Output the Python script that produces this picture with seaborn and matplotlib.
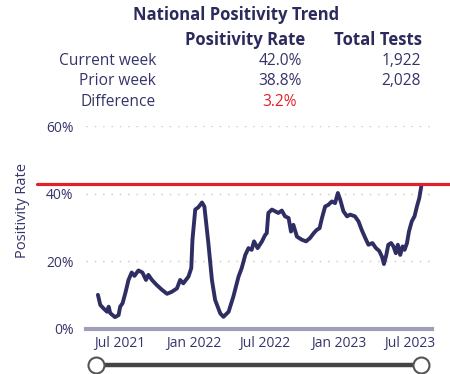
import pandas as pd
import matplotlib
matplotlib.use("Agg")
import matplotlib.pyplot as plt
import matplotlib.dates as mdates
from matplotlib.lines import Line2D
from matplotlib.transforms import blended_transform_factory
import seaborn as sns

# weekly positivity
dates = ["2021-05-06", "2021-05-12", "2021-05-20", "2021-05-29", "2021-06-02", "2021-06-06",
         "2021-06-18", "2021-06-27", "2021-07-01", "2021-07-07", "2021-07-14", "2021-07-22",
         "2021-07-30", "2021-08-06", "2021-08-16", "2021-08-26", "2021-09-04", "2021-09-10",
         "2021-09-19", "2021-10-01", "2021-10-14", "2021-10-27", "2021-11-08", "2021-11-21",
         "2021-11-29", "2021-12-07", "2021-12-20", "2021-12-27", "2021-12-30", "2022-01-06",
         "2022-01-14", "2022-01-23", "2022-01-29", "2022-02-08", "2022-02-17", "2022-02-25",
         "2022-03-10", "2022-03-18", "2022-03-31", "2022-04-12", "2022-04-25", "2022-05-03",
         "2022-05-12", "2022-05-20", "2022-05-28", "2022-06-03", "2022-06-12", "2022-06-23",
         "2022-07-01", "2022-07-05", "2022-07-09", "2022-07-18", "2022-08-03", "2022-08-12",
         "2022-08-20", "2022-08-29", "2022-09-04", "2022-09-10", "2022-09-19", "2022-10-01",
         "2022-10-12", "2022-10-22", "2022-10-31", "2022-11-08", "2022-11-15", "2022-11-21",
         "2022-11-29", "2022-12-07", "2022-12-16", "2022-12-24", "2022-12-31", "2023-01-06",
         "2023-01-14", "2023-01-23", "2023-01-31", "2023-02-12", "2023-02-21", "2023-03-01",
         "2023-03-10", "2023-03-18", "2023-03-28", "2023-04-06", "2023-04-14", "2023-04-21",
         "2023-04-26", "2023-05-02", "2023-05-07", "2023-05-14", "2023-05-20", "2023-05-26",
         "2023-05-31", "2023-06-06", "2023-06-12", "2023-06-17", "2023-06-23", "2023-06-28",
         "2023-07-05", "2023-07-12", "2023-07-18", "2023-07-24", "2023-07-29"]
rate = [10.1, 7.1, 6.1, 5.1, 6.6, 4.7,
        3.5, 4.1, 6.6, 7.6, 10.6, 14.5,
        16.7, 15.7, 17.3, 16.7, 14.5, 16.0,
        14.5, 13.0, 11.6, 10.4, 11.0, 12.0,
        14.5, 13.5, 15.5, 18.0, 26.4, 35.3,
        36.0, 37.4, 36.2, 25.4, 14.5, 8.6,
        4.6, 3.6, 5.1, 9.6, 15.5, 18.0,
        21.9, 23.9, 23.4, 25.9, 23.9, 25.9,
        27.8, 28.3, 34.3, 35.3, 34.3, 35.0,
        33.3, 32.8, 28.8, 30.8, 27.3, 26.4,
        25.9, 26.9, 28.3, 29.3, 29.8, 32.8,
        36.2, 36.7, 37.7, 37.2, 40.2, 38.2,
        34.8, 33.3, 33.8, 33.3, 31.8, 29.3,
        26.9, 24.9, 25.4, 23.9, 23.1, 21.4,
        19.2, 21.9, 24.9, 25.4, 24.4, 22.4,
        24.9, 21.9, 24.4, 23.4, 25.4, 28.8,
        31.8, 33.3, 36.2, 38.7, 42.2]

target_line = 43.0

# summary table
row_labels = ["Current week", "Prior week", "Difference"]
pos_rate = ["42.0%", "38.8%", "3.2%"]
total_tests = ["1,922", "2,028", ""]

df = pd.DataFrame({"date": pd.to_datetime(dates), "rate": rate})

navy = "#2f2e63"
text_c = "#35346a"
head_c = "#2b2a5c"
red = "#e3202a"

sns.set_theme(style="white")
plt.rcParams["font.family"] = ["Open Sans", "DejaVu Sans"]

fig = plt.figure(figsize=(4.5, 3.74), dpi=100)
ax = fig.add_axes([86 / 450, 1 - 329 / 374, 346 / 450, 203 / 374])

sns.lineplot(data=df, x="date", y="rate", ax=ax, color=navy, linewidth=2.8)

ax.set_ylim(0, 60)
ax.set_xlim(pd.Timestamp("2021-04-06"), pd.Timestamp("2023-08-25"))
ax.set_yticks([0, 20, 40, 60])
ax.set_yticklabels(["0%", "20%", "40%", "60%"])
ax.xaxis.set_major_locator(mdates.MonthLocator(bymonth=[1, 7]))
ax.xaxis.set_major_formatter(mdates.DateFormatter("%b %Y"))
ax.tick_params(axis="y", length=0, pad=9, labelsize=10, labelcolor=text_c)
ax.tick_params(axis="x", length=0, pad=5, labelsize=10, labelcolor=text_c)

for y in [20, 40, 60]:
    ax.axhline(y, color="#c8c8c8", linewidth=1, linestyle=(0, (1, 5)), zorder=0)

for s in ["top", "right", "left"]:
    ax.spines[s].set_visible(False)
ax.spines["bottom"].set_color("#a09fba")
ax.spines["bottom"].set_linewidth(3)

ax.set_xlabel("")
ax.set_ylabel("Positivity Rate", fontsize=10.5, color=text_c)
ax.yaxis.set_label_coords(-0.162, 0.586)

# red reference line running past the plot area
tr = blended_transform_factory(fig.transFigure, ax.transData)
ax.add_line(Line2D([37 / 450, 1.0], [target_line, target_line], transform=tr,
                   color=red, linewidth=2.3, clip_on=False, zorder=5))

# header table
fig.text(236 / 450, 1 - 15 / 374, "National Positivity Trend", ha="center", va="center",
         fontsize=12, fontweight="bold", color=head_c)
fig.text(245 / 450, 1 - 40 / 374, "Positivity Rate", ha="center", va="center",
         fontsize=12, fontweight="bold", color=head_c)
fig.text(378 / 450, 1 - 40 / 374, "Total Tests", ha="center", va="center",
         fontsize=12, fontweight="bold", color=head_c)
row_y = [61, 81, 102]
for lab, pr, tt, yy in zip(row_labels, pos_rate, total_tests, row_y):
    fig.text(156 / 450, 1 - yy / 374, lab, ha="right", va="center", fontsize=11.2, color=text_c)
    c = red if lab == "Difference" else text_c
    xr = 297 if lab == "Difference" else 302
    fig.text(xr / 450, 1 - yy / 374, pr, ha="right", va="center", fontsize=11.2, color=c)
    fig.text(421 / 450, 1 - yy / 374, tt, ha="right", va="center", fontsize=11.2, color=text_c)

# range slider
sy = 1 - 365 / 374
fig.add_artist(Line2D([96 / 450, 421 / 450], [sy, sy], color="#444444", linewidth=3.2,
                      transform=fig.transFigure))
fig.add_artist(Line2D([96 / 450, 421 / 450], [sy, sy], linestyle="none", marker="o",
                      markersize=11.5, markerfacecolor="white", markeredgecolor="#555555",
                      markeredgewidth=1.5, transform=fig.transFigure))

fig.savefig("out.png", dpi=100)
